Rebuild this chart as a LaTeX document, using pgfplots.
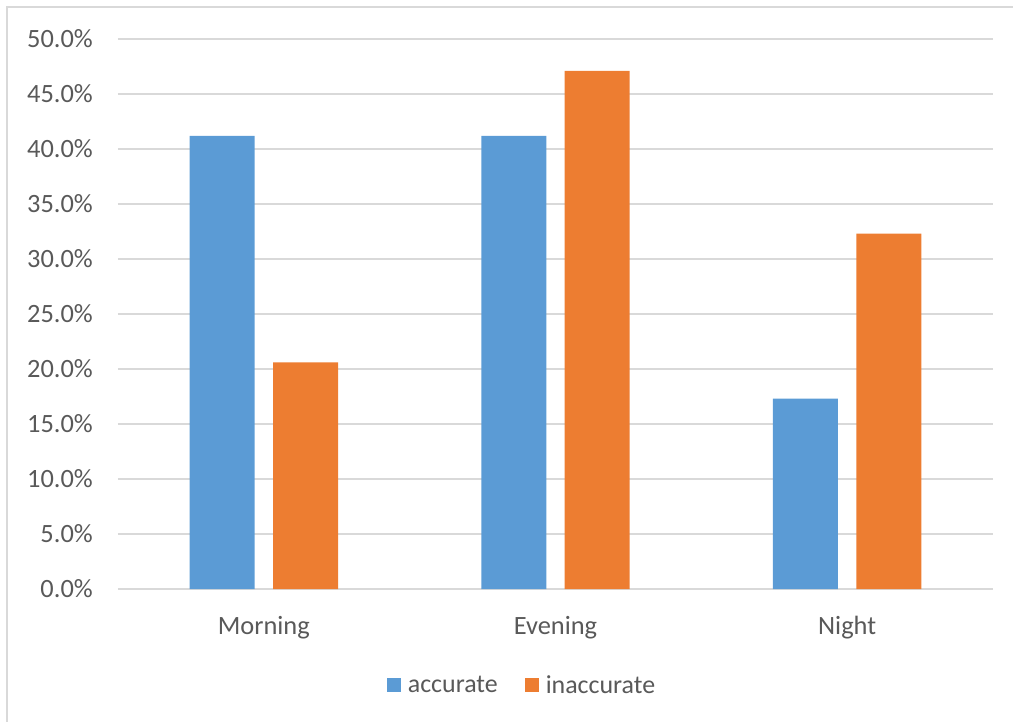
\documentclass[border=0pt]{standalone}
\usepackage{fontspec}
\setmainfont{Carlito}
\usepackage{pgfplots}
\pgfplotsset{compat=1.18}

\definecolor{accblue}{HTML}{5B9BD5}
\definecolor{inacc}{HTML}{ED7D31}
\definecolor{txtgray}{HTML}{595959}
\definecolor{gridgray}{HTML}{D9D9D9}
\definecolor{framegray}{HTML}{D9D9D9}

\begin{document}
\begin{tikzpicture}
\useasboundingbox (-118bp,-133bp) rectangle (895bp,589bp);
\draw[framegray, line width=1.2bp] (-111bp,-133bp) -- (-111bp,582bp) -- (895bp,582bp);
\begin{axis}[
    scale only axis,
    width=875bp, height=550bp,
    ybar=18.4bp, bar width=65bp,
    xmin=-0.5, xmax=2.5, ymin=0, ymax=50,
    xtick={0,1,2},
    xticklabels={Morning,Evening,Night},
    ytick={0,5,...,50},
    yticklabel={\pgfmathprintnumber[fixed,fixed zerofill,precision=1]{\tick}\%},
    /pgf/number format/assume math mode=true,
    major tick length=0pt,
    axis line style={draw=none},
    ymajorgrids,
    grid style={gridgray, line width=1.3bp},
    tick label style={font=\fontsize{26.5}{30}\selectfont, text=txtgray, inner sep=0pt},
    yticklabel style={anchor=east, xshift=-25bp},
    xticklabel style={anchor=north, yshift=-27bp},
    legend style={at={(0.4606,-0.1745)}, anchor=center, draw=none,
        font=\fontsize{26}{30}\selectfont, text=txtgray,
        legend columns=2, column sep=7bp, inner sep=0pt,
        nodes={inner sep=0pt},
        /tikz/every even column/.append style={column sep=27bp}},
    legend image code/.code={\fill[#1, draw=none] (0bp,-7bp) rectangle (14bp,7bp);},
    legend cell align=left,
]
\addplot[fill=accblue, draw=none] coordinates {(0,41.2) (1,41.2) (2,17.3)};
\addlegendentry{accurate}
\addplot[fill=inacc, draw=none] coordinates {(0,20.6) (1,47.1) (2,32.3)};
\addlegendentry{inaccurate}
\end{axis}
\end{tikzpicture}
\end{document}
